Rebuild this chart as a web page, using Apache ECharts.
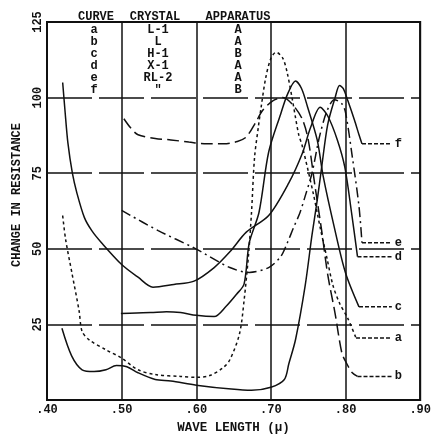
<!DOCTYPE html>
<html>
<head>
<meta charset="utf-8">
<script src="https://cdn.jsdelivr.net/npm/echarts@6/dist/echarts.min.js"></script>
<style>
    html, body { margin: 0; padding: 0; background: #fff; }
    #chart { width: 434px; height: 439px; }
</style>
</head>
<body>
<div id="chart"></div>
<script>
    // wave length (micron) / change in resistance
    var curveA = [[0.421, 61], [0.425, 53], [0.433, 42.5], [0.443, 29.5], [0.447, 22.7], [0.457, 19.8], [0.479, 16.6],
        [0.499, 14], [0.522, 10], [0.545, 8.4], [0.579, 7.8], [0.601, 7.5], [0.618, 8.1], [0.635, 10.5], [0.645, 13.3],
        [0.658, 22], [0.664, 32.8], [0.670, 48], [0.674, 62], [0.678, 80], [0.683, 90], [0.687, 97], [0.693, 106.5],
        [0.700, 113], [0.707, 115], [0.716, 113], [0.722, 108], [0.729, 99], [0.737, 88], [0.742, 84], [0.757, 68],
        [0.766, 57], [0.775, 47], [0.783, 38], [0.792, 32], [0.803, 27], [0.814, 20.5]];
    var curveB = [[0.503, 93], [0.512, 90], [0.522, 87.7], [0.545, 86.5], [0.566, 86], [0.590, 85.3], [0.614, 84.7],
        [0.637, 84.7], [0.655, 85.5], [0.667, 87], [0.680, 92], [0.689, 95.8], [0.703, 99], [0.716, 100], [0.729, 97.7],
        [0.742, 92.9], [0.750, 86], [0.759, 70.8], [0.768, 56], [0.776, 41.6], [0.786, 28.6], [0.795, 15.6],
        [0.801, 12.3], [0.809, 9], [0.816, 7.8]];
    var curveC = [[0.499, 28.6], [0.520, 28.8], [0.539, 28.9], [0.560, 29.2], [0.579, 28.9], [0.600, 28], [0.624, 27.6],
        [0.640, 31], [0.654, 35], [0.664, 38.3], [0.671, 52], [0.684, 62], [0.697, 82], [0.713, 94.5], [0.722, 101],
        [0.733, 105.5], [0.741, 103], [0.749, 97], [0.762, 86], [0.770, 74], [0.785, 57], [0.800, 42], [0.818, 30.8]];
    var curveD = [[0.421, 105], [0.424, 96], [0.428, 85], [0.434, 75], [0.440, 68.5], [0.450, 60.4], [0.460, 56],
        [0.473, 52], [0.500, 44.8], [0.522, 40.6], [0.542, 37.3], [0.570, 38.2], [0.597, 39.3], [0.624, 43.8],
        [0.645, 49], [0.667, 55.5], [0.697, 61], [0.724, 71.8], [0.742, 81.5], [0.753, 90], [0.766, 96.8],
        [0.776, 94], [0.789, 86], [0.799, 77], [0.808, 62], [0.816, 47.4]];
    var curveE = [[0.500, 62.7], [0.549, 56], [0.597, 50.3], [0.645, 43.8], [0.671, 42.2], [0.697, 43.8], [0.713, 47.4],
        [0.722, 52], [0.730, 56.8], [0.739, 62], [0.746, 67.5], [0.755, 75], [0.765, 87], [0.775, 95.5], [0.785, 99.3],
        [0.795, 98], [0.800, 95], [0.809, 80.5], [0.818, 64], [0.822, 52]];
    var curveF = [[0.420, 23.7], [0.433, 14.6], [0.447, 10], [0.463, 9.4], [0.479, 10], [0.493, 11.4], [0.507, 11],
        [0.522, 9], [0.545, 6.8], [0.566, 6.3], [0.600, 4.9], [0.647, 3.6], [0.674, 3.2], [0.700, 4.2], [0.718, 6.8],
        [0.724, 12], [0.733, 20], [0.746, 38], [0.755, 54.5], [0.762, 66], [0.768, 77], [0.776, 91], [0.786, 100],
        [0.792, 104], [0.797, 103], [0.803, 99], [0.812, 92.5], [0.818, 87.7], [0.822, 84.7]];

    var tableCurve = ['a', 'b', 'c', 'd', 'e', 'f'];
    var tableCrystal = ['L-1', 'L', 'H-1', 'X-1', 'RL-2', '"'];
    var tableApparatus = ['A', 'A', 'B', 'A', 'A', 'B'];

    var ink = '#111';
    var font = 'Liberation Mono';

    function curve(name, data, dash) {
        return {
            name: name, type: 'line', data: data, symbol: 'none', smooth: 0.3, z: 3,
            lineStyle: { color: ink, width: 1.5, type: dash }
        };
    }
    // short dashed lead from the curve end to its letter
    function tag(name, data) {
        var last = data[data.length - 1];
        return {
            name: name + '-tag', type: 'line', data: [[last[0], last[1]], [0.862, last[1]]], symbol: 'none', z: 3,
            lineStyle: { color: ink, width: 1.5, type: [4, 2] },
            endLabel: { show: true, formatter: name, color: ink, fontFamily: font, fontWeight: 'bold', fontSize: 12, distance: 3 }
        };
    }

    var graphic = [
        { type: 'text', x: 17, y: 195, rotation: Math.PI / 2,
          style: { text: 'CHANGE IN RESISTANCE', fill: ink, font: 'bold 12px ' + font, textAlign: 'center', textVerticalAlign: 'middle' } }
    ];
    var heads = [['CURVE', 96], ['CRYSTAL', 155], ['APPARATUS', 238]];
    heads.forEach(function (h) {
        graphic.push({ type: 'text', x: h[1], y: 17, z: 10,
            style: { text: h[0], fill: ink, font: 'bold 12px ' + font, textAlign: 'center', textVerticalAlign: 'middle' } });
    });
    for (var i = 0; i < tableCurve.length; i++) {
        var cols = [[tableCurve[i], 94], [tableCrystal[i], 158], [tableApparatus[i], 238]];
        cols.forEach(function (c) {
            graphic.push({ type: 'text', x: c[1], y: 30 + i * 12, z: 10,
                style: { text: c[0], fill: ink, font: 'bold 12px ' + font, textAlign: 'center', textVerticalAlign: 'middle' } });
        });
    }

    var chart = echarts.init(document.getElementById('chart'));
    chart.setOption({
        backgroundColor: '#fff',
        animation: false,
        grid: { left: 47, right: 6, top: 22, bottom: 32, show: true, borderColor: ink, borderWidth: 2 },
        xAxis: {
            type: 'value', min: 0.4, max: 0.9, interval: 0.1,
            axisLine: { show: false }, axisTick: { show: false },
            axisLabel: {
                formatter: function (v) { return '.' + Math.round(v * 100); },
                color: ink, fontFamily: font, fontWeight: 'bold', fontSize: 12, margin: 4
            },
            splitLine: { show: true, lineStyle: { color: ink, width: 1.5 } },
            name: 'WAVE LENGTH (μ)', nameLocation: 'middle', nameGap: 21,
            nameTextStyle: { color: ink, fontFamily: font, fontWeight: 'bold', fontSize: 12.5 }
        },
        yAxis: {
            type: 'value', min: 0, max: 125, interval: 25,
            axisLine: { show: false }, axisTick: { show: false },
            axisLabel: {
                rotate: 90, formatter: function (v) { return v === 0 ? '' : v; },
                color: ink, fontFamily: font, fontWeight: 'bold', fontSize: 12, margin: 3
            },
            splitLine: { show: true, lineStyle: { color: ink, width: 1.5, type: [45, 7] } }
        },
        graphic: graphic,
        series: [
            curve('a', curveA, [3, 3]),
            curve('b', curveB, [12, 5]),
            curve('c', curveC, 'solid'),
            curve('d', curveD, 'solid'),
            curve('e', curveE, [10, 4, 2, 4]),
            curve('f', curveF, 'solid'),
            tag('a', curveA), tag('b', curveB), tag('c', curveC),
            tag('d', curveD), tag('e', curveE), tag('f', curveF)
        ]
    });
</script>
</body>
</html>
